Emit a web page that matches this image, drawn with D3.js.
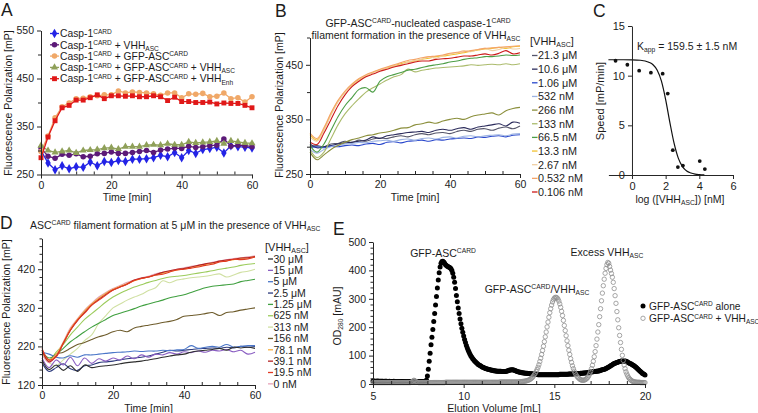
<!DOCTYPE html>
<html><head><meta charset="utf-8">
<script src="https://cdn.jsdelivr.net/npm/d3@7"></script>
<style>
body{margin:0;background:#fff;}
svg{display:block;font-family:"Liberation Sans",Arial,sans-serif;}
</style></head><body>
<svg id="chart" width="758" height="413"></svg>
<script>
// ---------------- DATA ----------------
// Panel A (time in min, FP in mP)
const timeA = [0,2,4,6,8,10,12,14,16,18,20,22,24,26,28,30,32,34,36,38,40,42,44,46,48,50,52,54,56,58,60];
const aCasp1 = [300,274,260,268,262,266,265,276,268,277,275,279,277,282,282,283,285,290,287,296,285,300,294,302,304,307,295,310,308,307,305];
const aCasp1VHH = [305,288,284,292,290,293,287,288,293,294,297,294,294,296,298,300,296,301,303,305,304,309,306,308,310,311,324,309,311,310,308];
const aCasp1GFP = [298,330,368,391,399,408,409,412,414,416,416,424,420,422,421,420,418,415,420,420,410,418,417,419,412,413,420,408,410,401,412];
const aCasp1GFPVHH = [310,300,296,298,300,295,300,301,302,305,306,303,308,308,308,311,312,311,314,312,312,318,316,317,318,320,314,320,318,316,315];
const aCasp1GFPEnh = [285,328,362,389,394,405,405,410,416,408,414,414,413,414,412,412,414,412,404,411,402,402,400,400,401,397,399,398,398,394,389];

// Panel B
const timeB = [0,2,4,6,8,10,12,14,16,18,20,22,24,26,28,30,32,34,36,38,40,42,44,46,48,50,52,54,56,58,60];
const b21_3uM = [300,302,300,305,306,310,308,312,310,314,316,315,318,320,318,322,324,322,325,326,324,328,330,328,332,333,330,334,336,333,338];
const b10_6uM = [305,298,300,302,305,307,308,310,312,318,315,320,322,324,326,327,328,326,330,332,330,333,335,332,336,338,340,342,338,345,343];
const b1_06uM = [298,300,298,301,300,302,303,302,305,306,304,308,309,307,310,311,312,310,313,312,314,315,316,315,318,317,319,320,318,321,322];
const b532nM = [295,288,295,300,302,305,306,308,307,310,311,312,310,313,314,312,315,316,314,317,318,316,319,320,318,320,321,322,320,323,324];
const b266nM = [290,276,285,295,302,308,313,316,320,322,325,327,330,334,335,340,342,345,343,347,350,352,350,355,358,360,362,358,366,370,372];
const b133nM = [295,280,290,315,340,360,375,388,400,408,415,422,428,432,442,437,440,442,444,445,446,447,448,450,449,450,451,450,452,450,452];
const b66_5nM = [302,290,305,330,355,375,390,405,408,400,420,428,432,436,440,442,445,448,450,452,455,457,460,462,463,465,465,466,468,467,468];
const b13_3nM = [322,312,332,360,383,400,413,423,430,436,441,444,448,452,455,457,460,462,465,466,468,470,472,475,477,479,480,482,480,483,484];
const b2_67nM = [318,310,330,358,382,400,412,422,430,436,440,445,448,450,455,458,460,465,462,467,470,472,476,474,478,480,476,478,482,479,480];
const b0_532nM = [325,315,335,362,385,402,415,425,432,437,442,446,450,454,458,460,463,465,466,468,471,473,474,476,478,480,481,482,483,484,485];
const b0_106nM = [308,304,325,350,375,395,410,420,428,433,438,442,446,449,452,455,457,457,460,461,462,464,466,466,468,470,468,471,476,470,472];
const bLabels = ['21.3 μM','10.6 μM','1.06 μM','532 nM','266 nM','133 nM','66.5 nM','13.3 nM','2.67 nM','0.532 nM','0.106 nM'];

// Panel C
const cLogConc = [-0.975,-0.274,0.427,1.124,1.823,2.124,2.425,2.726,3.025,4.025,4.328];
const cSpeed = [11.5,11.1,10.5,10.3,10.2,8.2,2.5,0.8,0.95,1.4,0.6];
const cFitX = [-1.4,-1,-0.5,0,0.5,1,1.25,1.5,1.75,2,2.25,2.5,2.75,3,3.25,3.5,3.75,4,4.3];
const cFitY = [11.6,11.6,11.6,11.59,11.55,11.35,11.1,10.55,9.45,7.6,5.3,3.2,1.7,0.85,0.4,0.2,0.09,0.04,0.01];

// Panel D
const timeD = [0,2,4,6,8,10,12,14,16,18,20,22,24,26,28,30,32,34,36,38,40,42,44,46,48,50,52,54,56,58,60];
const d30uM = [185,160,172,158,170,155,172,165,168,170,172,175,178,180,182,185,188,192,195,198,200,205,208,210,212,215,210,218,216,218,215];
const d15uM = [190,165,185,172,192,170,190,176,188,182,190,185,195,188,198,192,200,198,204,200,206,204,208,205,210,208,212,206,210,200,205];
const d5uM = [205,200,192,190,196,192,198,198,200,202,204,205,206,208,207,208,208,210,209,211,212,222,215,218,220,218,225,218,220,222,222];
const d2_5uM = [178,155,165,175,162,158,170,172,178,180,182,185,188,190,192,195,200,205,210,208,210,212,214,215,216,215,218,216,220,218,220];
const d1_25uM = [205,190,200,215,232,245,258,270,280,290,300,306,312,318,325,330,335,340,346,350,354,360,366,372,376,378,380,382,388,391,394];
const d625nM = [200,185,205,225,250,270,290,305,320,335,348,358,366,374,380,386,391,396,400,402,404,407,410,413,416,420,423,426,430,433,435];
const d313nM = [200,178,170,185,200,215,235,250,280,300,320,330,340,348,355,365,372,390,385,392,395,398,400,402,405,408,400,405,412,415,420];
const d156nM = [210,185,200,205,215,225,230,238,245,250,258,262,258,268,272,275,278,282,285,290,298,300,302,305,308,300,308,310,314,317,320];
const d78_1nM = [205,185,200,230,265,290,312,330,345,358,368,376,383,390,396,400,405,410,414,418,421,425,428,432,436,440,442,445,448,450,452];
const d39_1nM = [210,180,195,228,262,287,308,327,342,355,366,374,382,392,397,400,406,412,416,420,422,426,430,434,437,441,444,446,449,450,453];
const d19_5nM = [215,185,193,228,262,288,306,327,340,353,366,374,381,391,396,400,405,407,413,418,420,423,426,430,433,439,441,446,445,447,452];
const d0nM = [200,178,198,232,268,292,314,332,348,360,370,378,386,392,398,402,408,412,416,420,424,428,430,434,438,442,445,448,450,452,455];
const dLabels = ['30 μM','15 μM','5 μM','2.5 μM','1.25 μM','625 nM','313 nM','156 nM','78.1 nM','39.1 nM','19.5 nM','0 nM'];

// Panel E (elution volume from 5 mL in 0.05 mL steps; OD280 in mAU)
const eStartVolume = 5, eVolumeStep = 0.05;
const eAlone = [
11,11,10,10,10,11,10,10,10,10,10,10,9,10,10,10,9,9,10,9,
9,9,9,10,9,9,9,9,9,9,9,9,9,9,9,9,9,8,9,9,
9,9,9,9,9,9,10,9,9,9,9,9,9,9,9,9,9,9,9,14,
28,52,80,108,138,165,192,220,248,278,308,338,366,392,412,425,431,432,430,425,
420,417,415,413,411,409,406,400,390,376,358,336,312,290,268,248,229,212,196,182,
169,157,146,136,127,119,112,105,99,94,89,85,81,78,75,72,69,67,65,63,
61,59,58,56,55,54,53,52,51,50,49,48,48,47,47,46,46,45,45,45,
45,45,44,44,44,44,44,45,46,47,48,49,49,50,50,49,48,47,46,44,
43,42,41,41,40,40,39,39,38,38,38,37,37,36,36,36,35,35,35,34,
34,34,33,33,33,33,33,33,33,33,33,33,33,33,33,33,33,33,33,33,
33,33,33,33,33,33,34,34,34,34,34,34,34,34,34,34,35,35,35,35,
35,35,36,36,36,36,37,37,37,38,38,38,39,39,39,40,40,40,41,41,
42,42,43,43,44,44,45,45,46,46,47,48,49,50,51,52,53,55,56,58,
60,62,64,66,68,70,72,73,75,76,77,78,79,80,81,81,81,81,81,80,
79,77,75,73,71,70,68,66,64,62,59,56,53,50,47,44,41,38,36,34,
32];
const eWithVHH = [
5,5,5,5,5,5,5,5,5,5,5,5,5,5,5,5,5,5,5,5,
5,5,5,5,5,5,5,5,5,5,5,5,5,5,5,5,5,5,5,5,
5,5,6,7,10,13,12,9,7,6,5,5,5,5,5,5,5,5,5,5,
5,5,5,5,5,5,5,5,5,5,5,5,5,5,5,5,5,5,5,5,
6,6,6,6,6,6,6,6,6,6,6,6,6,6,6,6,6,6,6,6,
6,6,6,6,6,6,6,6,6,6,6,6,6,6,6,6,6,6,6,6,
6,6,6,6,6,6,6,6,6,6,6,6,6,6,6,6,6,6,6,6,
7,7,7,7,7,7,7,7,7,7,7,7,7,7,7,7,7,7,7,7,
7,7,8,8,8,9,9,10,10,11,12,13,14,16,18,21,24,28,33,38,
44,51,59,68,79,91,104,118,133,149,166,183,201,218,235,251,265,278,289,297,
302,305,305,303,299,292,282,270,256,241,224,206,188,170,152,135,119,104,89,76,
64,54,45,38,32,27,23,20,17,15,14,13,13,14,15,17,20,24,29,36,
44,54,66,80,96,114,135,158,183,209,237,265,293,320,346,369,390,407,420,428,
425,414,401,389,376,358,336,311,284,255,226,198,171,146,122,101,83,67,54,43,
35,28,22,18,15,12,10,9,8,7,7,6,6,6,6,5,5,5,5,5,
5];

// ---------------- DRAWING ----------------
const svg = d3.select('#chart');
const FS = 10.5, TXT = '#1c1c1c', AX = '#262626';

function rich(t, parts, fs){
  const off = m => m==='sup' ? -0.34*fs : (m==='sub' ? 0.22*fs : 0);
  let prev = 'n';
  parts.forEach(([s,m]) => {
    const ts = t.append('tspan').text(s);
    const dy = off(m) - off(prev);
    if (dy) ts.attr('dy', dy);
    if (m !== 'n') ts.attr('font-size', fs*0.64);
    prev = m;
  });
  return t;
}
function label(x, y, parts, o={}){
  const fs = o.fs || FS;
  const t = svg.append('text').attr('x', x).attr('y', y).attr('font-size', fs)
    .attr('fill', TXT).attr('text-anchor', o.anchor || 'start');
  if (o.rot) t.attr('transform', `rotate(-90,${x},${y})`);
  return rich(t, typeof parts === 'string' ? [[parts,'n']] : parts, fs);
}
function styleAxis(g, fs){
  g.selectAll('path,line').attr('stroke', AX).attr('stroke-width', 1);
  g.selectAll('text').attr('font-size', fs || FS).attr('fill', TXT)
    .attr('font-family', '"Liberation Sans",Arial,sans-serif');
}
function xAxis(scale, y, major, minor, o={}){
  const g = svg.append('g').attr('transform', `translate(0,${y})`)
    .call(d3.axisBottom(scale).tickValues(major).tickSize(o.size || 4).tickSizeOuter(0)
      .tickPadding(o.pad || 3).tickFormat(d3.format('d')));
  styleAxis(g, o.fs);
  if (minor){
    const m = svg.append('g').attr('transform', `translate(0,${y})`)
      .call(d3.axisBottom(scale).tickValues(minor).tickSize(o.minor || -3).tickSizeOuter(0).tickFormat(() => ''));
    m.select('.domain').remove(); styleAxis(m);
  }
}
function yAxis(scale, x, major, minor, o={}){
  const g = svg.append('g').attr('transform', `translate(${x},0)`)
    .call(d3.axisLeft(scale).tickValues(major).tickSize(o.size || 4).tickSizeOuter(0)
      .tickPadding(o.pad || 3).tickFormat(d3.format('d')));
  styleAxis(g, o.fs);
  if (minor){
    const m = svg.append('g').attr('transform', `translate(${x},0)`)
      .call(d3.axisLeft(scale).tickValues(minor).tickSize(o.minor || 3).tickSizeOuter(0).tickFormat(() => ''));
    m.select('.domain').remove(); styleAxis(m);
  }
}
const range = (a, b, s) => { const r = []; for (let v = a; v <= b + 1e-9; v += s) r.push(+v.toFixed(4)); return r; };
const minus = (arr, ex) => arr.filter(v => !ex.includes(v));

// ===== Panel A =====
{
  const x = d3.scaleLinear([0,60],[41,252]);
  const y = d3.scaleLinear([250,550],[174.5,30.5]);
  label(1, 15.5, 'A', {fs: 17.5});
  const series = [
    {v: aCasp1, c: '#2323e6', s: d3.symbolDiamond, sz: 26},
    {v: aCasp1VHH, c: '#5c1a78', s: d3.symbolCircle, sz: 24},
    {v: aCasp1GFP, c: '#f0a868', s: d3.symbolCircle, sz: 24},
    {v: aCasp1GFPVHH, c: '#8fa059', s: d3.symbolTriangle, sz: 22},
    {v: aCasp1GFPEnh, c: '#e01818', s: d3.symbolSquare, sz: 24}
  ];
  const legendParts = [
    [['Casp-1','n'],['CARD','sup']],
    [['Casp-1','n'],['CARD','sup'],[' + VHH','n'],['ASC','sub']],
    [['Casp-1','n'],['CARD','sup'],[' + GFP-ASC','n'],['CARD','sup']],
    [['Casp-1','n'],['CARD','sup'],[' + GFP-ASC','n'],['CARD','sup'],[' + VHH','n'],['ASC','sub']],
    [['Casp-1','n'],['CARD','sup'],[' + GFP-ASC','n'],['CARD','sup'],[' + VHH','n'],['Enh','sub']]
  ];
  const line = d3.line().x((d,i) => x(timeA[i])).y(d => y(d));
  series.forEach(S => {
    svg.append('path').attr('d', line(S.v)).attr('fill','none').attr('stroke', S.c).attr('stroke-width', 1.3);
    svg.append('g').selectAll('path').data(S.v).join('path')
      .attr('transform', (d,i) => `translate(${x(timeA[i])},${y(d)})`)
      .attr('d', d3.symbol(S.s, S.sz)).attr('fill', S.c);
  });
  xAxis(x, 174.5, [0,20,40,60], minus(range(0,60,5),[0,20,40,60]));
  yAxis(y, 41, [250,350,450,550], [300,400,500]);
  label(127, 201, 'Time [min]', {anchor:'middle'});
  label(11.5, 103, 'Fluorescence Polarization [mP]', {anchor:'middle', rot:true});
  series.forEach((S, i) => {
    const cy = 33.5 + i * 11.3;
    svg.append('line').attr('x1', 50).attr('x2', 59).attr('y1', cy).attr('y2', cy).attr('stroke', S.c).attr('stroke-width', 1.3);
    svg.append('path').attr('transform', `translate(54.5,${cy})`).attr('d', d3.symbol(S.s, S.sz)).attr('fill', S.c);
    label(60, cy + 3.7, legendParts[i], {fs: 10.3});
  });
}

// ===== Panel B =====
{
  const x = d3.scaleLinear([0,60],[310,520]);
  const y = d3.scaleLinear([250,500],[174,37.5]);
  label(275, 17, 'B', {fs: 17.5});
  const series = [
    {v: b21_3uM, c: '#55556a'}, {v: b10_6uM, c: '#2c2c5c'}, {v: b1_06uM, c: '#2a48cc'},
    {v: b532nM, c: '#9db3e2'}, {v: b266nM, c: '#8b8f3c'}, {v: b133nM, c: '#abbb6c'},
    {v: b66_5nM, c: '#4c9e46'}, {v: b13_3nM, c: '#f2c230'}, {v: b2_67nM, c: '#f0cfa2'},
    {v: b0_532nM, c: '#f4a468'}, {v: b0_106nM, c: '#cc1a1a'}
  ];
  const line = d3.line().x((d,i) => x(timeB[i])).y(d => y(d)).curve(d3.curveCatmullRom.alpha(0.5));
  series.forEach(S => svg.append('path').attr('d', line(S.v)).attr('fill','none').attr('stroke', S.c).attr('stroke-width', 1.1));
  xAxis(x, 174, [0,20,40,60], minus(range(0,60,5),[0,20,40,60]));
  yAxis(y, 310, [250,350,450], [300,400,500]);
  label(415, 201, 'Time [min]', {anchor:'middle'});
  label(283, 105, 'Fluorescence Polarization [mP]', {anchor:'middle', rot:true});
  label(418, 26.5, [['GFP-ASC','n'],['CARD','sup'],['-nucleated caspase-1','n'],['CARD','sup']], {anchor:'middle'});
  label(416, 39, [['filament formation in the presence of VHH','n'],['ASC','sub']], {anchor:'middle'});
  label(530, 44.5, [['[VHH','n'],['ASC','sub'],[']','n']], {fs: 11});
  series.forEach((S, i) => {
    const cy = 55.5 + i * 13.65;
    svg.append('line').attr('x1', 532).attr('x2', 537.5).attr('y1', cy).attr('y2', cy).attr('stroke', S.c).attr('stroke-width', 1.3);
    label(538, cy + 3.8, bLabels[i], {fs: 10.8});
  });
}

// ===== Panel C =====
{
  const x = d3.scaleLinear([-1.4,6],[608.4,733]);
  const y = d3.scaleLinear([0,15],[175,26]);
  label(593, 17, 'C', {fs: 17.5});
  const line = d3.line().x((d,i) => x(cFitX[i])).y(d => y(d)).curve(d3.curveMonotoneX);
  svg.append('path').attr('d', line(cFitY)).attr('fill','none').attr('stroke','#111').attr('stroke-width', 1.2);
  svg.append('g').selectAll('circle').data(cSpeed).join('circle')
    .attr('cx', (d,i) => x(cLogConc[i])).attr('cy', d => y(d)).attr('r', 1.9).attr('fill', '#111');
  xAxis(x, 175, [0,2,4,6], null, {fs: 11});
  yAxis(y, x(0), [0,5,10,15], null, {fs: 11});
  label(637, 50, [['K','n'],['app','sub'],[' = 159.5 ± 1.5 nM','n']], {fs: 10.5});
  label(604, 101, 'Speed [mP/min]', {anchor:'middle', rot:true, fs: 11});
  label(680, 203, [['log ([VHH','n'],['ASC','sub'],[']) [nM]','n']], {anchor:'middle', fs: 10.5});
}

// ===== Panel D =====
{
  const x = d3.scaleLinear([0,60],[42,255]);
  const y = d3.scaleLinear([120,500],[385,238.4]);
  label(0, 228.5, 'D', {fs: 17.5});
  const series = [
    {v: d30uM, c: '#2e2e2e'}, {v: d15uM, c: '#8a5ec2'}, {v: d5uM, c: '#4a76c8'}, {v: d2_5uM, c: '#2c3a7c'},
    {v: d1_25uM, c: '#40a040'}, {v: d625nM, c: '#9ccc5c'}, {v: d313nM, c: '#d0e0a2'}, {v: d156nM, c: '#6e5c2c'},
    {v: d78_1nM, c: '#f5b042'}, {v: d39_1nM, c: '#b42424'}, {v: d19_5nM, c: '#e23a22'}, {v: d0nM, c: '#e6a2b8'}
  ];
  const line = d3.line().x((d,i) => x(timeD[i])).y(d => y(d)).curve(d3.curveCatmullRom.alpha(0.5));
  [6,5,4,7,3,2,1,0,11,8,9,10].forEach(k => svg.append('path').attr('d', line(series[k].v))
    .attr('fill','none').attr('stroke', series[k].c).attr('stroke-width', 1.1));
  xAxis(x, 385, [0,20,40,60], minus(range(0,60,5),[0,20,40,60]));
  yAxis(y, 42, [120,220,320,420], minus(range(140,500,20),[220,320,420]), {minor: 2.5});
  label(148.5, 411.5, 'Time [min]', {anchor:'middle'});
  label(10, 312, 'Fluorescence Polarization [mP]', {anchor:'middle', rot:true});
  label(30, 229, [['ASC','n'],['CARD','sup'],[' filament formation at 5 μM in the presence of VHH','n'],['ASC','sub']]);
  label(265, 250.5, [['[VHH','n'],['ASC','sub'],[']','n']], {fs: 11});
  series.forEach((S, i) => {
    const cy = 259 + i * 11.35;
    svg.append('line').attr('x1', 268).attr('x2', 273).attr('y1', cy).attr('y2', cy).attr('stroke', S.c).attr('stroke-width', 1.3);
    label(273.5, cy + 3.7, dLabels[i], {fs: 10.5});
  });
}

// ===== Panel E =====
{
  const x = d3.scaleLinear([5,20],[373,645]);
  const y = d3.scaleLinear([0,500],[384,242]);
  label(333, 235, 'E', {fs: 17.5});
  const vol = i => eStartVolume + i * eVolumeStep;
  svg.append('g').selectAll('circle').data(eAlone).join('circle')
    .attr('cx', (d,i) => x(vol(i))).attr('cy', d => y(d)).attr('r', 2.5).attr('fill', '#000');
  svg.append('g').selectAll('circle').data(eWithVHH).join('circle')
    .attr('cx', (d,i) => x(vol(i))).attr('cy', d => y(d)).attr('r', 2.2)
    .attr('fill', 'none').attr('stroke', '#8f8f8f').attr('stroke-width', 0.8);
  xAxis(x, 384, [5,10,15,20], minus(range(5,20,1),[5,10,15,20]), {pad: 5});
  yAxis(y, 373, [0,100,200,300,400,500], minus(range(0,500,20),[0,100,200,300,400,500]), {minor: 2.5});
  label(494, 411.5, 'Elution Volume [mL]', {anchor:'middle'});
  label(341, 316, [['OD','n'],['280','sub'],[' [mAU]','n']], {anchor:'middle', rot:true});
  label(443, 257, [['GFP-ASC','n'],['CARD','sup']], {anchor:'middle'});
  label(537, 293, [['GFP-ASC','n'],['CARD','sup'],['/VHH','n'],['ASC','sub']], {anchor:'middle'});
  label(607, 255.5, [['Excess VHH','n'],['ASC','sub']], {anchor:'middle'});
  svg.append('circle').attr('cx', 643).attr('cy', 306).attr('r', 2.5).attr('fill', '#000');
  svg.append('circle').attr('cx', 643).attr('cy', 318.3).attr('r', 2.2).attr('fill','none').attr('stroke','#8f8f8f').attr('stroke-width',0.8);
  label(649, 309.8, [['GFP-ASC','n'],['CARD','sup'],[' alone','n']], {fs: 10.2});
  label(649, 322, [['GFP-ASC','n'],['CARD','sup'],[' + VHH','n'],['ASC','sub']], {fs: 10.2});
}
</script>
</body></html>
